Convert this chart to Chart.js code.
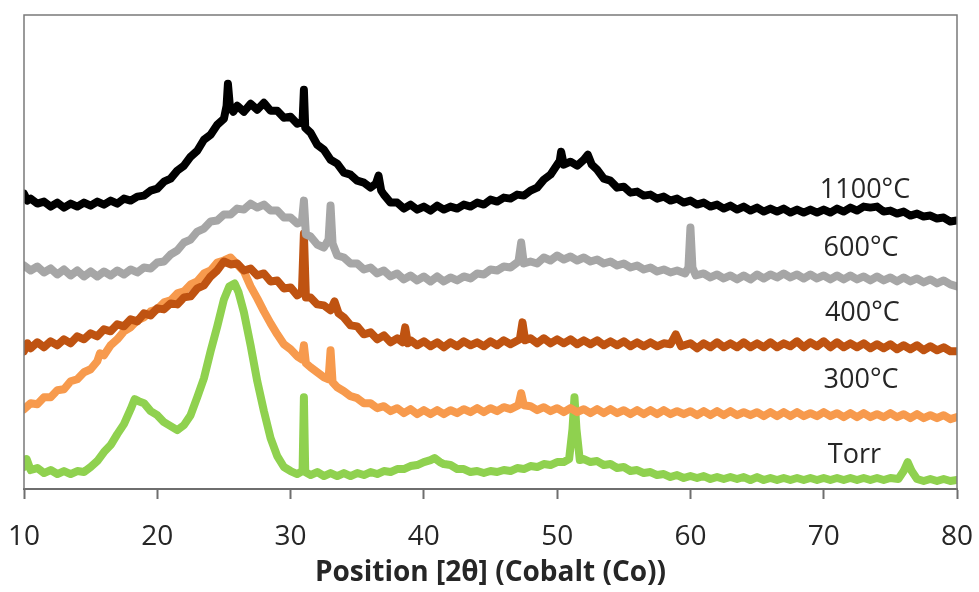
<!DOCTYPE html>
<html>
<head>
<meta charset="utf-8">
<script src="https://cdn.jsdelivr.net/npm/chart.js@4.4.1/dist/chart.umd.min.js"></script>
<style>
  html, body { margin: 0; padding: 0; background: #ffffff; }
  #wrap { width: 979px; height: 592px; position: relative; }
</style>
</head>
<body>
<div id="wrap"><canvas id="xrd"></canvas></div>
<script>
// XRD patterns (Co Kα), intensities offset per sample, arbitrary units
const seriesNames = ['1100°C', '600°C', '400°C', '300°C', 'Torr'];
const seriesColors = ['#000000', '#a6a6a6', '#bf5311', '#f79a4d', '#8fd14f'];
const xTicks = [10, 20, 30, 40, 50, 60, 70, 80];
const axisTitle = 'Position [2θ] (Cobalt (Co))';

const xrd1100 = [[10,296],[10.25,289],[10.5,291],[11,286],[11.5,288],[12,283],[12.5,287],[13,282],[13.5,286],[14,283],[14.5,287],[15,284],[15.5,288],[16,285],[16.5,289],[17,286],[17.5,291],[18,289],[18.5,293],[19,294],[19.5,299],[20,301],[20.5,308],[21,311],[21.5,319],[22,324],[22.5,333],[23,339],[23.5,350],[24,355],[24.5,365],[25,371],[25.2,384],[25.3,406],[25.45,383],[25.7,378],[26,384],[26.5,378],[27,386],[27.5,380],[28,387],[28.5,379],[29,379],[29.5,372],[30,373],[30.5,366],[30.9,368],[31.0,400],[31.1,362],[31.5,357],[32,345],[32.5,340],[33,330],[33.5,326],[34,317],[34.5,315],[35,309],[35.5,307],[36,302],[36.4,306],[36.6,314],[36.8,299],[37,295],[37.5,287],[38,287],[38.5,281],[39,285],[39.5,280],[40,283],[40.5,279],[41,284],[41.5,280],[42,283],[42.5,281],[43,285],[43.5,283],[44,287],[44.5,285],[45,290],[45.5,288],[46,292],[46.5,291],[47,295],[47.5,294],[48,299],[48.5,302],[49,310],[49.5,315],[50,325],[50.2,329],[50.3,338],[50.5,325],[51,328],[51.5,324],[52,330],[52.3,335],[52.6,325],[53,320],[53.5,311],[54,309],[54.5,302],[55,303],[55.5,297],[56,298],[56.5,294],[57,295],[57.5,291],[58,293],[58.5,289],[59,291],[59.5,287],[60,289],[60.5,285],[61,287],[61.5,283],[62,285],[62.5,281],[63,284],[63.5,280],[64,283],[64.5,279],[65,282],[65.5,278],[66,281],[66.5,278],[67,281],[67.5,277],[68,280],[68.5,277],[69,280],[69.5,277],[70,280],[70.5,277],[71,281],[71.5,278],[72,282],[72.5,279],[73,283],[73.5,282],[74,283],[74.5,278],[75,279],[75.5,276],[76,278],[76.5,274],[77,276],[77.5,273],[78,274],[78.5,271],[79,272],[79.5,268],[80,269]];

const xrd600 = [[10,224],[10.5,219],[11,223],[11.5,217],[12,221],[12.5,215],[13,220],[13.5,214],[14,219],[14.5,213],[15,218],[15.5,213],[16,218],[16.5,214],[17,219],[17.5,215],[18,220],[18.5,217],[19,222],[19.5,221],[20,227],[20.5,228],[21,235],[21.5,239],[22,247],[22.5,250],[23,258],[23.5,261],[24,268],[24.5,269],[25,275],[25.5,275],[26,281],[26.5,280],[27,286],[27.5,282],[28,285],[28.5,279],[29,279],[29.5,272],[30,272],[30.5,266],[30.85,268],[31.0,289],[31.15,255],[31.5,253],[32,245],[32.5,242],[32.85,250],[33.0,284],[33.15,246],[33.5,234],[34,232],[34.5,226],[35,226],[35.5,220],[36,222],[36.5,216],[37,219],[37.5,213],[38,216],[38.5,210],[39,214],[39.5,209],[40,213],[40.5,208],[41,213],[41.5,208],[42,212],[42.5,209],[43,213],[43.5,211],[44,216],[44.5,215],[45,220],[45.5,219],[46,223],[46.5,222],[47.1,228],[47.3,247],[47.5,226],[48,228],[48.5,226],[49,232],[49.5,229],[50,234],[50.5,230],[51,233],[51.5,229],[52,232],[52.5,228],[53,230],[53.5,226],[54,228],[54.5,224],[55,226],[55.5,222],[56,224],[56.5,220],[57,222],[57.5,218],[58,220],[58.5,217],[59,219],[59.6,216],[59.85,222],[60.0,262],[60.15,222],[60.4,214],[61,216],[61.5,212],[62,215],[62.5,211],[63,214],[63.5,210],[64,214],[64.5,210],[65,215],[65.5,211],[66,215],[66.5,212],[67,216],[67.5,212],[68,215],[68.5,211],[69,215],[69.5,211],[70,214],[70.5,210],[71,214],[71.5,210],[72,214],[72.5,210],[73,213],[73.5,209],[74,213],[74.5,209],[75,212],[75.5,208],[76,212],[76.5,208],[77,211],[77.5,207],[78,210],[78.5,206],[79,209],[79.5,205],[80,203]];

const xrd400 = [[10,138],[10.25,146],[10.5,141],[11,147],[11.5,142],[12,148],[12.5,144],[13,150],[13.5,146],[14,153],[14.5,150],[15,156],[15.5,153],[16,160],[16.5,158],[17,165],[17.5,163],[18,170],[18.5,168],[19,176],[19.5,174],[20,181],[20.5,180],[21,186],[21.5,185],[22,192],[22.5,193],[23,201],[23.5,204],[24,213],[24.5,219],[25,228],[25.5,225],[26,226],[26.5,219],[27,221],[27.5,214],[28,216],[28.5,208],[29,209],[29.5,201],[30,202],[30.5,194],[30.85,197],[31.0,256],[31.15,192],[31.5,192],[32,185],[32.5,184],[33,179],[33.3,188],[33.6,176],[34,172],[34.5,164],[35,163],[35.5,155],[36,157],[36.5,150],[37,154],[37.5,147],[38,151],[38.4,147],[38.6,162],[38.8,146],[39,149],[39.5,144],[40,148],[40.5,143],[41,147],[41.5,142],[42,147],[42.5,143],[43,148],[43.5,144],[44,147],[44.5,143],[45,148],[45.5,144],[46,149],[46.5,145],[47.2,150],[47.4,167],[47.6,149],[48,151],[48.5,146],[49,151],[49.5,146],[50,150],[50.5,146],[51,150],[51.5,145],[52,149],[52.5,145],[53,149],[53.5,144],[54,148],[54.5,144],[55,148],[55.5,143],[56,147],[56.5,143],[57,147],[57.5,143],[58,146],[58.5,145],[58.9,155],[59.3,143],[60,146],[60.5,141],[61,146],[61.5,142],[62,147],[62.5,142],[63,146],[63.5,142],[64,147],[64.5,142],[65,146],[65.5,142],[66,147],[66.5,142],[67,146],[67.5,143],[68,148],[68.5,142],[69,147],[69.5,143],[70,148],[70.5,142],[71,147],[71.5,142],[72,146],[72.5,142],[73,146],[73.5,141],[74,145],[74.5,141],[75,145],[75.5,140],[76,144],[76.5,140],[77,144],[77.5,139],[78,143],[78.5,139],[79,142],[79.5,138],[80,138]];

const xrd300 = [[10,80],[10.5,86],[11,85],[11.5,92],[12,92],[12.5,99],[13,100],[13.5,108],[14,110],[14.5,117],[15,120],[15.5,128],[15.7,136],[16,134],[16.5,144],[17,150],[17.5,158],[18,162],[18.5,169],[19,172],[19.5,178],[20,180],[20.5,187],[21,189],[21.5,196],[22,198],[22.5,205],[23,208],[23.5,216],[24,219],[24.5,227],[25,229],[25.5,232],[26,225],[26.5,218],[27,203],[27.5,191],[28,178],[28.5,166],[29,155],[29.5,145],[30,140],[30.5,133],[30.85,130],[31.0,144],[31.15,126],[31.5,122],[32,117],[32.5,112],[32.85,110],[33.0,139],[33.15,107],[33.5,102],[34,98],[34.5,93],[35,91],[35.5,86],[36,86],[36.5,81],[37,83],[37.5,78],[38,81],[38.5,76],[39,80],[39.5,75],[40,79],[40.5,75],[41,79],[41.5,75],[42,79],[42.5,76],[43,80],[43.5,77],[44,81],[44.5,77],[45,81],[45.5,78],[46,82],[46.5,80],[47.1,84],[47.3,96],[47.5,84],[48,83],[48.5,79],[49,82],[49.5,78],[50,81],[50.5,77],[51,81],[51.5,77],[52,80],[52.5,76],[53,80],[53.5,76],[54,80],[54.5,76],[55,79],[55.5,75],[56,79],[56.5,75],[57,79],[57.5,75],[58,79],[58.5,75],[59,78],[59.5,75],[60,78],[60.5,74],[61,78],[61.5,74],[62,78],[62.5,74],[63,78],[63.5,74],[64,77],[64.5,74],[65,77],[65.5,73],[66,77],[66.5,73],[67,77],[67.5,73],[68,77],[68.5,73],[69,76],[69.5,73],[70,77],[70.5,73],[71,76],[71.5,72],[72,76],[72.5,72],[73,76],[73.5,72],[74,75],[74.5,72],[75,76],[75.5,72],[76,75],[76.5,71],[77,75],[77.5,71],[78,74],[78.5,71],[79,74],[79.5,70],[80,72]];

const xrdTorr = [[10,22],[10.2,30],[10.5,19],[11,21],[11.5,16],[12,19],[12.5,15],[13,18],[13.5,15],[14,18],[14.5,17],[15,22],[15.5,28],[16,37],[16.5,44],[17,55],[17.5,65],[18,80],[18.3,90],[18.6,88],[19,86],[19.5,78],[20,74],[20.5,67],[21,63],[21.5,59],[22,64],[22.5,74],[23,92],[23.5,111],[24,138],[24.5,163],[25,190],[25.4,203],[25.8,206],[26.1,197],[26.5,177],[27,144],[27.5,108],[28,78],[28.5,51],[29,33],[29.5,22],[30,18],[30.5,15],[30.9,18],[31.0,92],[31.1,17],[31.5,14],[32,17],[32.5,13],[33,16],[33.5,13],[34,16],[34.5,13],[35,16],[35.5,14],[36,17],[36.5,15],[37,18],[37.5,17],[38,20],[38.5,20],[39,23],[39.5,24],[40,27],[40.5,29],[40.8,31],[41.2,27],[41.5,25],[42,24],[42.5,20],[43,20],[43.5,17],[44,18],[44.5,16],[45,18],[45.5,17],[46,19],[46.5,18],[47,21],[47.5,20],[48,23],[48.5,22],[49,25],[49.5,24],[50,27],[50.5,27],[50.9,30],[51.15,60],[51.3,92],[51.45,60],[51.7,29],[52,30],[52.5,27],[53,28],[53.5,24],[54,25],[54.5,21],[55,22],[55.5,18],[56,19],[56.5,16],[57,17],[57.5,14],[58,15],[58.5,12],[59,14],[59.5,11],[60,13],[60.5,11],[61,13],[61.5,10],[62,12],[62.5,10],[63,12],[63.5,10],[64,12],[64.5,9],[65,12],[65.5,9],[66,11],[66.5,9],[67,11],[67.5,9],[68,11],[68.5,9],[69,11],[69.5,9],[70,11],[70.5,9],[71,11],[71.5,9],[72,11],[72.5,9],[73,11],[73.5,9],[74,11],[74.5,9],[75,11],[75.6,10],[76.0,18],[76.3,27],[76.6,18],[77,10],[77.5,8],[78,10],[78.5,8],[79,10],[79.5,8],[80,9]];

const seriesData = [xrd1100, xrd600, xrd400, xrd300, xrdTorr];
// where each trace's name sits: [2θ, intensity]
const labelAnchors = [[73.1, 299], [72.8, 241], [72.9, 176], [72.8, 109], [72.3, 34]];

const FONT = '"Open Sans", "Noto Sans", sans-serif';

// frame around the plotting area
const framePlugin = {
  id: 'frame',
  afterDatasetsDraw(chart) {
    const { ctx, chartArea: a } = chart;
    ctx.save();
    ctx.strokeStyle = '#7a7a7a';
    ctx.lineWidth = 1.5;
    ctx.beginPath();
    ctx.moveTo(a.left, a.bottom);
    ctx.lineTo(a.left, a.top);
    ctx.lineTo(a.right, a.top);
    ctx.lineTo(a.right, a.bottom);
    ctx.stroke();
    ctx.restore();
  }
};

// sample names next to each trace
const namePlugin = {
  id: 'traceNames',
  afterDatasetsDraw(chart) {
    const { ctx, scales } = chart;
    ctx.save();
    ctx.font = '27px ' + FONT;
    ctx.fillStyle = '#262626';
    ctx.textAlign = 'center';
    ctx.textBaseline = 'middle';
    seriesNames.forEach((name, i) => {
      const [x, y] = labelAnchors[i];
      ctx.fillText(name, scales.x.getPixelForValue(x), scales.y.getPixelForValue(y));
    });
    ctx.restore();
  }
};

new Chart(document.getElementById('xrd'), {
  type: 'line',
  data: {
    datasets: seriesNames.map((name, i) => ({
      label: name,
      data: seriesData[i],
      borderColor: seriesColors[i],
      backgroundColor: seriesColors[i],
      borderWidth: 8,
      pointRadius: 0,
      tension: 0,
      borderJoinStyle: 'round',
      borderCapStyle: 'round'
    }))
  },
  options: {
    responsive: true,
    maintainAspectRatio: false,
    animation: false,
    events: [],
    layout: { padding: { left: 24, right: 22, top: 15, bottom: 0 } },
    plugins: { legend: { display: false }, tooltip: { enabled: false } },
    scales: {
      x: {
        type: 'linear',
        min: 10,
        max: 80,
        afterBuildTicks(scale) { scale.ticks = xTicks.map(v => ({ value: v })); },
        afterFit(scale) {
          scale.height = 103;
          scale.paddingLeft = 0;
          scale.paddingRight = 0;
        },
        border: { display: true, color: '#6e6e6e', width: 2 },
        grid: { drawOnChartArea: false, drawTicks: true, tickLength: 10, color: '#6e6e6e', tickColor: '#6e6e6e', tickWidth: 2 },
        ticks: { color: '#262626', font: { family: FONT, size: 28 }, padding: 21, maxRotation: 0 },
        title: { display: true, text: axisTitle, color: '#262626', font: { family: FONT, size: 28, weight: 'bold' }, padding: { top: 0, bottom: 2 } }
      },
      y: {
        display: false,
        min: 0,
        max: 475
      }
    }
  },
  plugins: [framePlugin, namePlugin]
});
</script>
</body>
</html>
